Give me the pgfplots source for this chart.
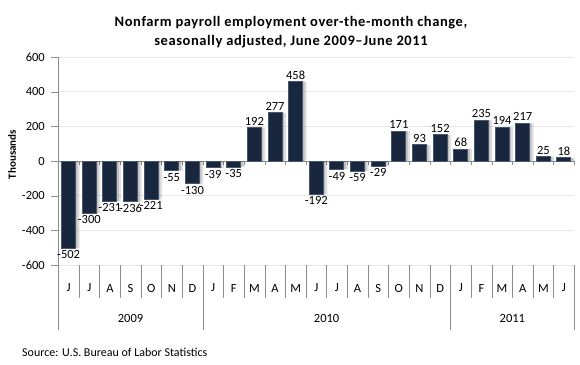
\documentclass[border=0pt]{standalone}
\usepackage{pgfplots}
\pgfplotsset{compat=1.18}
\usepackage{fontspec}
\setmainfont{Carlito}
\definecolor{barc}{RGB}{24,38,62}
\definecolor{bare}{RGB}{72,86,110}
\definecolor{gridc}{RGB}{232,232,232}
\definecolor{linec}{RGB}{140,140,140}
\newcommand\numfont{\fontsize{12.5}{14}\selectfont}
\begin{document}
\begin{tikzpicture}
\path[use as bounding box] (0pt,0pt) rectangle (580pt,364pt);
\node[font=\bfseries\fontsize{14.5}{16}\selectfont\addfontfeature{LetterSpace=4}, anchor=base, inner sep=0pt] at (291pt,337pt) {Nonfarm payroll employment over-the-month change,};
\node[font=\bfseries\fontsize{14.5}{16}\selectfont\addfontfeature{LetterSpace=4}, anchor=base, inner sep=0pt] at (291pt,318pt) {seasonally adjusted, June 2009--June 2011};
\node[rotate=90, font=\bfseries\fontsize{11}{12}\selectfont, inner sep=0pt] at (12pt,209.5pt) {Thousands};
\node[anchor=base west, font=\fontsize{12}{14}\selectfont, inner sep=0pt] at (22pt,8pt) {Source: U.S. Bureau of Labor Statistics};
\begin{axis}[
  at={(58.3pt,99pt)}, anchor=south west, scale only axis,
  width=516pt, height=208pt,
  xmin=-0.5, xmax=24.5, ymin=-600, ymax=600,
  clip=false,
  axis line style={draw=none},
  /pgf/number format/assume math mode=true,
  ytick={-600,-400,...,600},
  ytick pos=left,
  ytick style={linec},
  tick align=outside,
  major tick length=7pt,
  ymajorgrids, grid style={gridc},
  yticklabel style={font=\numfont, xshift=-3pt},
  xtick={0,...,24},
  xtick style={draw=none},
  xticklabels={J,J,A,S,O,N,D,J,F,M,A,M,J,J,A,S,O,N,D,J,F,M,A,M,J},
  xticklabel style={font=\numfont, anchor=center, yshift=-16pt},
  ybar, bar width=14pt,
]
\draw[linec] (axis cs:-0.5,600) -- (axis cs:-0.5,-600);
\draw[linec] (axis cs:-0.5,0) -- (axis cs:24.5,0);
\pgfplotsinvokeforeach{-0.5,0.5,...,24.5}{\draw[linec] (axis cs:#1,0) -- ++(0pt,-4pt);}
\pgfplotsinvokeforeach{0.5,1.5,2.5,3.5,4.5,5.5,7.5,8.5,9.5,10.5,11.5,12.5,13.5,14.5,15.5,16.5,17.5,19.5,20.5,21.5,22.5,23.5}{\draw[linec] (axis cs:#1,-600) -- ++(0pt,-33pt);}
\pgfplotsinvokeforeach{-0.5,6.5,18.5,24.5}{\draw[linec] (axis cs:#1,-600) -- ++(0pt,-65pt);}
\node[font=\numfont] at (axis cs:3,-600) [yshift=-53pt] {2009};
\node[font=\numfont] at (axis cs:12.5,-600) [yshift=-53pt] {2010};
\node[font=\numfont] at (axis cs:21.5,-600) [yshift=-53pt] {2011};
\addplot[fill=black, fill opacity=0.12, draw=none, bar shift=4pt, forget plot] coordinates {
(0,-502) (1,-300) (2,-231) (3,-236) (4,-221) (5,-55) (6,-130) (7,-39) (8,-35) (9,192) (10,277) (11,458) (12,-192) (13,-49) (14,-59) (15,-29) (16,171) (17,93) (18,152) (19,68) (20,235) (21,194) (22,217) (23,25) (24,18)};
\addplot[fill=black, fill opacity=0.15, draw=none, bar shift=2pt, forget plot] coordinates {
(0,-502) (1,-300) (2,-231) (3,-236) (4,-221) (5,-55) (6,-130) (7,-39) (8,-35) (9,192) (10,277) (11,458) (12,-192) (13,-49) (14,-59) (15,-29) (16,171) (17,93) (18,152) (19,68) (20,235) (21,194) (22,217) (23,25) (24,18)};
\addplot[fill=barc, draw=bare, line width=1pt, bar shift=0pt,
  nodes near coords, nodes near coords style={font=\numfont, inner sep=2pt, text=black}] coordinates {
(0,-502) (1,-300) (2,-231) (3,-236) (4,-221) (5,-55) (6,-130) (7,-39) (8,-35) (9,192) (10,277) (11,458) (12,-192) (13,-49) (14,-59) (15,-29) (16,171) (17,93) (18,152) (19,68) (20,235) (21,194) (22,217) (23,25) (24,18)};
\end{axis}
\end{tikzpicture}
\end{document}
